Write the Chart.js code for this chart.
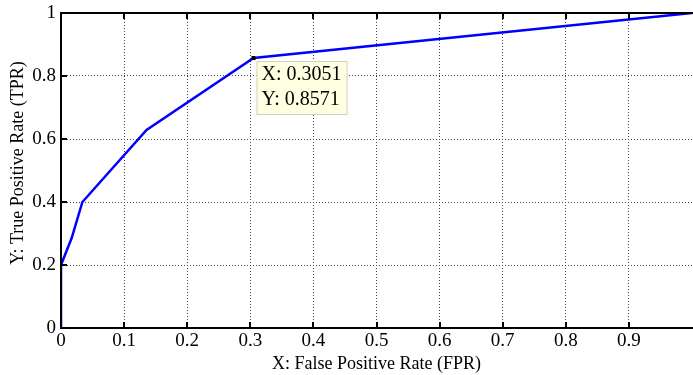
<!DOCTYPE html>
<html>
<head>
<meta charset="utf-8">
<script src="https://cdn.jsdelivr.net/npm/chart.js@4/dist/chart.umd.min.js"></script>
<style>
html,body{margin:0;padding:0;background:#fff;}
#wrap{width:693px;height:375px;position:relative;}
</style>
</head>
<body>
<div id="wrap"><canvas id="c" width="693" height="375"></canvas></div>
<script>
const fpr = [0, 0, 0.0169, 0.0339, 0.1356, 0.3051, 1];
const tpr = [0, 0.2, 0.2857, 0.4, 0.6286, 0.8571, 1];
const xTickValues = [0, 0.1, 0.2, 0.3, 0.4, 0.5, 0.6, 0.7, 0.8, 0.9, 1];
const yTickValues = [0, 0.2, 0.4, 0.6, 0.8, 1];
const tipPoint = {x: 0.3051, y: 0.8571};
const xTitle = 'X: False Positive Rate (FPR)';
const yTitle = 'Y: True Positive Rate (TPR)';

const SERIF = '"Liberation Serif", "Times New Roman", serif';

const frame = {
  id: 'frame',
  afterDatasetsDraw(chart) {
    const ctx = chart.ctx, a = chart.chartArea;
    const xs = chart.scales.x, ys = chart.scales.y;
    ctx.save();
    ctx.strokeStyle = '#000';
    ctx.lineWidth = 2;
    ctx.beginPath();
    ctx.moveTo(a.left, a.top); ctx.lineTo(a.right + 2, a.top);
    ctx.moveTo(a.left, a.top - 1); ctx.lineTo(a.left, a.bottom + 1);
    ctx.moveTo(a.left - 1, a.bottom); ctx.lineTo(a.right + 2, a.bottom);
    ctx.stroke();
    // inward ticks
    ctx.beginPath();
    xTickValues.forEach(v => {
      if (v === 1) return;
      const px = Math.round(xs.getPixelForValue(v));
      ctx.moveTo(px, a.bottom); ctx.lineTo(px, a.bottom - 6);
      ctx.moveTo(px, a.top); ctx.lineTo(px, a.top + 6);
    });
    yTickValues.forEach(v => {
      const py = Math.round(ys.getPixelForValue(v));
      ctx.moveTo(a.left, py); ctx.lineTo(a.left + 6, py);
    });
    ctx.stroke();
    // y title
    ctx.fillStyle = '#000';
    ctx.font = '18px ' + SERIF;
    ctx.textAlign = 'center';
    ctx.textBaseline = 'middle';
    ctx.save();
    ctx.translate(18, 163);
    ctx.rotate(-Math.PI / 2);
    ctx.fillText(yTitle, 0, 0);
    ctx.restore();
    // data tip
    const px = xs.getPixelForValue(tipPoint.x), py = ys.getPixelForValue(tipPoint.y);
    const bx = px + 3, by = py + 3, bw = 91, bh = 54;
    ctx.fillStyle = '#ffffe1';
    ctx.fillRect(bx, by, bw, bh);
    ctx.strokeStyle = '#d0d0c0';
    ctx.lineWidth = 1;
    ctx.strokeRect(bx + 0.5, by + 0.5, bw - 1, bh - 1);
    ctx.fillStyle = '#000';
    ctx.fillRect(px - 2, py - 2, 4, 4);
    ctx.font = '20px ' + SERIF;
    ctx.textBaseline = 'middle';
    ctx.textAlign = 'left';
    ctx.fillText('X: ' + tipPoint.x.toFixed(4), bx + 5, by + 14);
    ctx.fillText('Y: ' + tipPoint.y.toFixed(4), bx + 5, by + 39);
    ctx.restore();
  }
};

new Chart(document.getElementById('c'), {
  type: 'line',
  data: {
    datasets: [{
      data: fpr.map((x, i) => ({x: x, y: tpr[i]})),
      borderColor: '#0000ff',
      borderWidth: 2.5,
      pointRadius: 0,
      fill: false,
      tension: 0
    }]
  },
  options: {
    responsive: false,
    animation: false,
    devicePixelRatio: 1,
    layout: {padding: {top: 13, right: 1, left: 0, bottom: 0}},
    plugins: {legend: {display: false}, tooltip: {enabled: false}},
    scales: {
      x: {
        type: 'linear', min: 0, max: 1,
        afterBuildTicks: s => { s.ticks = xTickValues.map(v => ({value: v})); },
        afterFit: s => { s.height = 47; s.paddingLeft = 0; s.paddingRight = 0; },
        grid: {color: ctx => (ctx.tick && ctx.tick.value === 1) ? 'rgba(0,0,0,0)' : '#444', lineWidth: 1, drawTicks: false},
        border: {display: false, dash: [1, 2]},
        ticks: {
          color: '#000', padding: 2, maxRotation: 0, autoSkip: false,
          font: {family: SERIF, size: 19},
          callback: v => v === 1 ? '' : String(Math.round(v * 10) / 10)
        },
        title: {display: true, text: xTitle, color: '#000', font: {family: SERIF, size: 18}, padding: {top: -4, bottom: 0}}
      },
      y: {
        type: 'linear', min: 0, max: 1,
        afterBuildTicks: s => { s.ticks = yTickValues.map(v => ({value: v})); },
        afterFit: s => { s.width = 61; s.paddingTop = 0; s.paddingBottom = 0; },
        grid: {color: '#444', lineWidth: 1, drawTicks: false},
        border: {display: false, dash: [1, 2]},
        ticks: {
          color: '#000', padding: 5, autoSkip: false,
          font: {family: SERIF, size: 19},
          callback: v => String(Math.round(v * 10) / 10)
        },
        title: {display: false}
      }
    }
  },
  plugins: [frame]
});
</script>
</body>
</html>
